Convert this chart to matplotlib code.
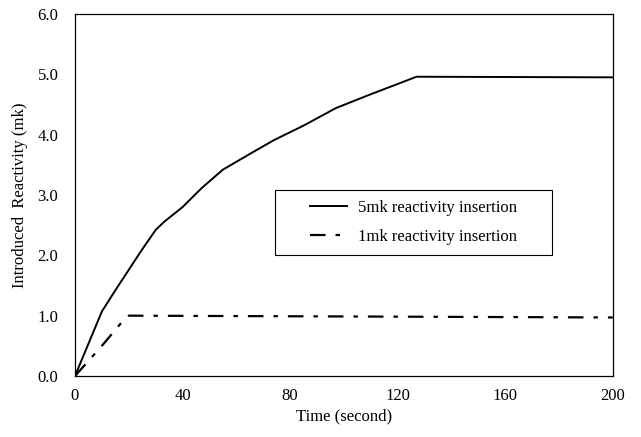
import numpy as np
import matplotlib
matplotlib.use("Agg")
import matplotlib.pyplot as plt
from matplotlib.patches import Rectangle

plt.rcParams['font.family'] = ['Liberation Serif', 'DejaVu Serif']

# 5 mk insertion curve (time in s, reactivity in mk)
t_5mk = [0, 10, 15, 20, 25, 30, 33, 40, 47, 55, 65, 74, 85, 97, 110, 120, 127, 200]
rho_5mk = [0, 1.07, 1.42, 1.76, 2.1, 2.42, 2.55, 2.8, 3.11, 3.42, 3.68, 3.91, 4.15, 4.44, 4.67, 4.84, 4.96, 4.95]

# 1 mk insertion curve
t_1mk = [0, 10, 17, 20, 200]
rho_1mk = [0, 0.5, 0.87, 1.0, 0.97]

xticks = [0, 40, 80, 120, 160, 200]
yticks = [0.0, 1.0, 2.0, 3.0, 4.0, 5.0, 6.0]

fig = plt.figure(figsize=(6.41, 4.37), dpi=100)
ax = fig.add_axes([0.117, 0.1396, 0.839, 0.8284])

ax.plot(t_5mk, rho_5mk, color='black', lw=1.4, label='5mk reactivity insertion')
ax.plot(t_1mk, rho_1mk, color='black', lw=1.6, dashes=(7, 4.5, 2, 4.5),
        label='1mk reactivity insertion')

ax.set_xlim(0, 200)
ax.set_ylim(0, 6)
ax.set_xticks(xticks)
ax.set_yticks(yticks)
ax.set_yticklabels(['%.1f' % v for v in yticks])
ax.tick_params(axis='both', length=0, labelsize=12)
ax.tick_params(axis='y', pad=12)
ax.tick_params(axis='x', pad=9)
for s in ax.spines.values():
    s.set_linewidth(0.9)
    s.set_color('black')

ax.set_xlabel('Time (second)', fontsize=12, labelpad=3)
ax.set_ylabel('Introduced  Reactivity (mk)', fontsize=12, labelpad=7)

# legend frame drawn by hand so it can be wider than its content
ax.add_patch(Rectangle((0.372, 0.334), 0.515, 0.18, transform=ax.transAxes,
                       fill=False, edgecolor='black', lw=0.8, zorder=3))
ax.legend(loc='center', bbox_to_anchor=(0.63, 0.424), frameon=False,
          fontsize=12, handlelength=2.2, handletextpad=0.7, labelspacing=0.75)

fig.savefig('out.png', dpi=100)
